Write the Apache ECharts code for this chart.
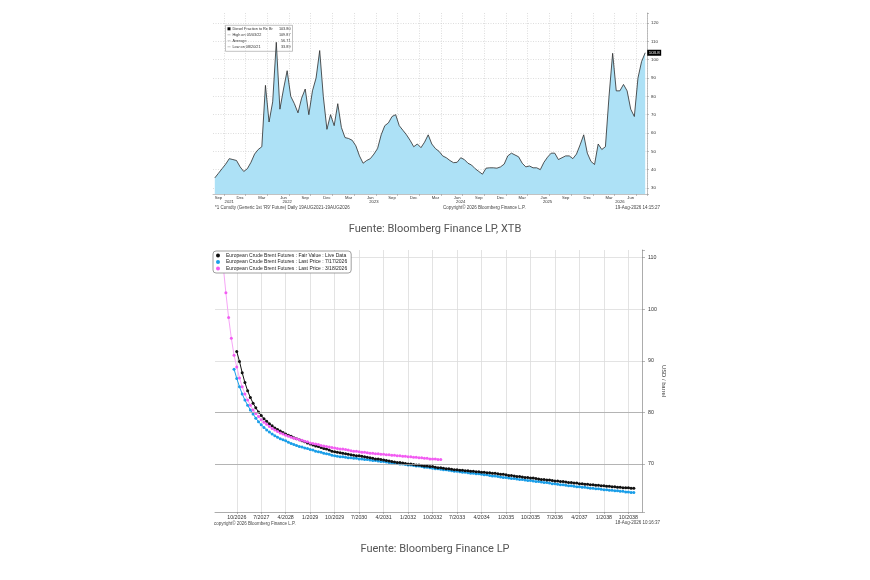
<!DOCTYPE html>
<html>
<head>
<meta charset="utf-8">
<script src="https://cdn.jsdelivr.net/npm/echarts@6/dist/echarts.min.js"></script>
<style>
  html, body { margin: 0; padding: 0; background: #fff; }
  #main { width: 870px; height: 580px; }
</style>
</head>
<body>
<div id="main"></div>
<script>
// ---- top chart: half-month samples from 2nd half of Aug 2021
const dieselFrom = { year: 2021, month: 8, half: 2 };
const dieselValues = [
  35.5, 38, 40.5, 43, 46, 45.5, 45, 41.5, 39, 40.5,
  44, 48.5, 51, 52.5, 86, 66, 77, 109.5, 73, 84,
  94, 80, 76, 71, 79, 84, 70, 83, 90, 105,
  80, 62, 70, 64, 76, 63, 57.5, 57, 56, 53,
  47.5, 43.5, 45, 46, 48.5, 51.5, 59, 64, 65.5, 69,
  70, 64, 61.5, 59, 56, 52.5, 54, 52, 55, 59,
  54, 51.5, 50, 47.5, 46.5, 45, 43.8, 44, 46.5, 45.5,
  43.5, 42.5, 40.5, 39, 37.5, 40.8, 41, 41, 40.8, 41.5,
  43, 47.5, 49, 48, 47, 43.5, 41.5, 42, 41, 41,
  40, 44, 46.8, 49, 49, 45.5, 46.5, 47.5, 47.5, 46,
  48.5, 53.5, 59, 49, 44.5, 42.8, 54, 51, 52.5, 80,
  103.5, 83, 83, 86.5, 83, 73, 69, 90, 99, 103.8
];
const monthTickNames = { 3: 'Mar', 6: 'Jun', 9: 'Sep', 12: 'Dec' };
const quarterStartMonths = [1, 4, 7, 10];
const dieselLegendRows = [
  ['Diesel Fraction to Re Br', '103.80'],
  ['High on 05/03/22', '109.87'],
  ['Average', '56.71'],
  ['Low on 08/20/21', '33.89']
];

// ---- bottom chart: monthly contracts
const contractFirst = '2/2026';
const contractLast = '3/2039';
const curveTickFrom = '10/2026';
const fairValueName = 'European Crude Brent Futures : Fair Value : Live Data';
const julyName = 'European Crude Brent Futures : Last Price : 7/17/2026';
const marchName = 'European Crude Brent Futures : Last Price : 3/18/2026';

const fairValueFrom = '10/2026';
const fairValue = [
  91.8, 89.9, 87.7, 85.8, 84.2, 82.9, 81.8, 80.9, 80.1, 79.4,
  78.8, 78.3, 77.8, 77.4, 77.0, 76.7, 76.4, 76.1, 75.8, 75.6,
  75.4, 75.1, 74.9, 74.7, 74.5, 74.3, 74.1, 73.9, 73.7, 73.5,
  73.4, 73.2, 73.0, 72.9, 72.7, 72.5, 72.4, 72.3, 72.2, 72.1,
  72.0, 71.9, 71.8, 71.7, 71.6, 71.6, 71.5, 71.4, 71.3, 71.2,
  71.1, 71.0, 71.0, 70.9, 70.8, 70.7, 70.6, 70.5, 70.4, 70.3,
  70.3, 70.2, 70.1, 70.0, 70.0, 69.9, 69.8, 69.8, 69.7, 69.6,
  69.6, 69.5, 69.5, 69.4, 69.3, 69.3, 69.2, 69.1, 69.1, 69.0,
  68.9, 68.9, 68.8, 68.8, 68.7, 68.7, 68.6, 68.6, 68.5, 68.5,
  68.4, 68.4, 68.3, 68.3, 68.2, 68.2, 68.1, 68.0, 68.0, 67.9,
  67.8, 67.8, 67.7, 67.6, 67.6, 67.5, 67.4, 67.4, 67.3, 67.3,
  67.2, 67.1, 67.0, 67.0, 66.9, 66.9, 66.8, 66.7, 66.7, 66.6,
  66.6, 66.5, 66.4, 66.4, 66.3, 66.3, 66.2, 66.2, 66.1, 66.1,
  66.0, 66.0, 65.9, 65.9, 65.8, 65.8, 65.7, 65.7, 65.6, 65.6,
  65.5, 65.5, 65.4, 65.4, 65.4, 65.3, 65.3
];

const julyFrom = '9/2026';
const julyPrice = [
  88.4, 86.6, 85.0, 83.6, 82.4, 81.4, 80.5, 79.7, 78.9, 78.2,
  77.6, 77.1, 76.6, 76.2, 75.8, 75.5, 75.2, 74.9, 74.7, 74.5,
  74.2, 74.0, 73.8, 73.6, 73.4, 73.3, 73.1, 73.0, 72.8, 72.7,
  72.5, 72.4, 72.3, 72.1, 72.0, 71.9, 71.7, 71.6, 71.5, 71.4,
  71.4, 71.3, 71.2, 71.2, 71.1, 71.1, 71.0, 71.0, 70.9, 70.9,
  70.8, 70.7, 70.7, 70.6, 70.5, 70.5, 70.4, 70.3, 70.2, 70.2,
  70.1, 70.0, 70.0, 69.9, 69.8, 69.8, 69.7, 69.6, 69.6, 69.5,
  69.4, 69.4, 69.3, 69.2, 69.1, 69.1, 69.0, 68.9, 68.9, 68.8,
  68.7, 68.6, 68.6, 68.5, 68.4, 68.4, 68.3, 68.2, 68.2, 68.1,
  68.1, 68.0, 67.9, 67.9, 67.8, 67.7, 67.7, 67.6, 67.5, 67.4,
  67.4, 67.3, 67.2, 67.2, 67.1, 67.0, 67.0, 66.9, 66.8, 66.8,
  66.7, 66.6, 66.6, 66.5, 66.4, 66.4, 66.3, 66.2, 66.2, 66.1,
  66.0, 66.0, 65.9, 65.8, 65.8, 65.7, 65.6, 65.6, 65.5, 65.5,
  65.4, 65.3, 65.3, 65.2, 65.2, 65.1, 65.0, 65.0, 64.9, 64.9,
  64.8, 64.8, 64.7, 64.7, 64.6, 64.6, 64.5, 64.5
];

const marchFrom = '5/2026';
const marchPrice = [
  108.5, 103.2, 98.4, 94.4, 91.1, 88.8, 86.7, 85.0, 83.6, 82.4,
  81.4, 80.5, 79.8, 79.2, 78.6, 78.1, 77.7, 77.3, 76.9, 76.6,
  76.3, 76.0, 75.8, 75.6, 75.4, 75.2, 75.0, 74.9, 74.7, 74.6,
  74.4, 74.3, 74.1, 74.0, 73.9, 73.8, 73.6, 73.5, 73.4, 73.3,
  73.2, 73.1, 73.0, 72.9, 72.9, 72.8, 72.7, 72.6, 72.5, 72.5,
  72.4, 72.3, 72.3, 72.2, 72.1, 72.1, 72.0, 72.0, 71.9, 71.9,
  71.8, 71.8, 71.7, 71.7, 71.6, 71.6, 71.5, 71.5, 71.4, 71.4,
  71.3, 71.3, 71.2, 71.2, 71.1, 71.1, 71.0, 71.0, 71.0, 70.9,
  70.9
];

// half-month slots for the top chart
const slots = [];
let sy = dieselFrom.year, sm = dieselFrom.month, sh = dieselFrom.half;
for (let i = 0; i < dieselValues.length; i++) {
  slots.push({ y: sy, m: sm, h: sh });
  if (sh === 2) {
    sh = 1; sm++;
    if (sm > 12) { sm = 1; sy++; }
  } else {
    sh = 2;
  }
}
const slotNames = slots.map(s => s.y + '-' + s.m + '-' + s.h);
// year label sits in the middle of the visible part of each year
const yearMid = {};
const yearSpan = {};
slots.forEach((s, i) => {
  if (!yearSpan[s.y]) yearSpan[s.y] = [i, i];
  yearSpan[s.y][1] = i;
});
Object.keys(yearSpan).forEach(y => {
  yearMid[Math.floor((yearSpan[y][0] + yearSpan[y][1]) / 2)] = y;
});
const isMonthTick = i => slots[i].h === 1 && monthTickNames[slots[i].m];
const isQuarterLine = i => slots[i].h === 1 && quarterStartMonths.includes(slots[i].m);

// monthly contract axis for the bottom chart
const contracts = [];
let cy = +contractFirst.split('/')[1], cm = +contractFirst.split('/')[0];
while (true) {
  const name = cm + '/' + cy;
  contracts.push(name);
  if (name === contractLast) break;
  cm++;
  if (cm > 12) { cm = 1; cy++; }
}
const tickFromIdx = contracts.indexOf(curveTickFrom);
const isCurveTick = i => i >= tickFromIdx && (i - tickFromIdx) % 9 === 0;

function pad(from, values) {
  return new Array(contracts.indexOf(from)).fill('-').concat(values);
}

const chart = echarts.init(document.getElementById('main'));
const smallText = { fontFamily: 'Liberation Sans, Arial, sans-serif', color: '#333' };

const topLegend = {
  type: 'group', left: 225, top: 25,
  children: [
    { type: 'rect', shape: { x: 0, y: 0, width: 67, height: 26 },
      style: { fill: '#fff', stroke: '#999', lineWidth: 0.6 } },
    { type: 'rect', shape: { x: 2, y: 2, width: 3, height: 3 }, style: { fill: '#000' } }
  ].concat(dieselLegendRows.map((r, k) => ({
    type: 'text', x: 7, y: 3.5 + k * 6,
    style: { text: r[0], fontSize: 3.8, fill: '#333', fontFamily: smallText.fontFamily, verticalAlign: 'middle' }
  }))).concat(dieselLegendRows.map((r, k) => ({
    type: 'text', x: 65, y: 3.5 + k * 6,
    style: { text: r[1], fontSize: 3.8, fill: '#333', fontFamily: smallText.fontFamily, align: 'right', verticalAlign: 'middle' }
  }))).concat([1, 2, 3].map(k => ({
    type: 'line', shape: { x1: 2, y1: 3.5 + k * 6, x2: 5, y2: 3.5 + k * 6 },
    style: { stroke: '#999', lineWidth: 0.6 }
  })))
};

function footText(x, y, text, align) {
  return { type: 'text', x: x, y: y,
    style: { text: text, fontSize: 4.5, fill: '#444', fontFamily: smallText.fontFamily, align: align || 'left', verticalAlign: 'middle' } };
}

const option = {
  animation: false,
  backgroundColor: '#fff',
  grid: [
    { left: 213, top: 13, width: 434, height: 181, outerBoundsMode: 'none' },
    { left: 215, top: 250, width: 427, height: 262, outerBoundsMode: 'none' }
  ],
  legend: {
    data: [fairValueName, julyName, marchName],
    orient: 'vertical',
    left: 213, top: 251,
    icon: 'circle',
    itemWidth: 4, itemHeight: 4, itemGap: 1.5,
    padding: [2, 4, 2, 3],
    backgroundColor: '#fff',
    borderColor: '#888', borderWidth: 0.8, borderRadius: 3,
    textStyle: { fontSize: 5, color: '#222', fontFamily: smallText.fontFamily, padding: [0, 0, 0, 1] }
  },
  xAxis: [
    {
      type: 'category', gridIndex: 0, data: slotNames, boundaryGap: true,
      axisLine: { lineStyle: { color: '#999', width: 0.6 } },
      axisTick: { show: true, length: 2, interval: isQuarterLine, lineStyle: { color: '#999', width: 0.6 } },
      splitLine: { show: true, interval: isQuarterLine, lineStyle: { color: '#c8c8c8', width: 0.6, type: [1, 1.5] } },
      axisLabel: {
        interval: i => !!isMonthTick(i) || yearMid[i] !== undefined,
        formatter: (v, i) => isMonthTick(i) ? monthTickNames[slots[i].m] : (yearMid[i] !== undefined ? '\n' + yearMid[i] : ''),
        fontSize: 4.2, lineHeight: 4.8, margin: 1, ...smallText
      }
    },
    {
      type: 'category', gridIndex: 1, data: contracts, boundaryGap: false,
      axisLine: { lineStyle: { color: '#888', width: 0.7 } },
      axisTick: { show: true, length: 2, interval: isCurveTick, lineStyle: { color: '#888', width: 0.6 } },
      splitLine: { show: true, interval: isCurveTick, lineStyle: { color: '#dcdcdc', width: 0.8 } },
      axisLabel: { interval: isCurveTick, fontSize: 5.3, margin: 3, ...smallText }
    }
  ],
  yAxis: [
    {
      type: 'value', gridIndex: 0, position: 'right',
      min: 26.7, max: 125.5, splitNumber: 10,
      axisLine: { show: true, lineStyle: { color: '#999', width: 0.6 } },
      axisTick: { show: true, length: 2, lineStyle: { color: '#999', width: 0.6 } },
      splitLine: { show: true, showMinLine: false, showMaxLine: false, lineStyle: { color: '#c8c8c8', width: 0.6, type: [1, 1.5] } },
      axisLabel: { fontSize: 4.4, margin: 4, ...smallText, formatter: v => (Math.abs(v % 10) < 1e-6 ? v : '') }
    },
    {
      type: 'value', gridIndex: 1, position: 'right',
      min: 60.7, max: 111.5, splitNumber: 5,
      axisLine: { show: true, lineStyle: { color: '#888', width: 0.7 } },
      axisTick: { show: true, length: 3, lineStyle: { color: '#888', width: 0.6 } },
      splitLine: { show: true, showMinLine: false, showMaxLine: false, lineStyle: { color: '#dcdcdc', width: 0.8 } },
      axisLabel: { fontSize: 5.3, margin: 6, ...smallText, formatter: v => (Math.abs(v % 10) < 1e-6 ? v : '') },
      name: 'USD / barrel', nameLocation: 'middle', nameRotate: -90, nameGap: 18,
      nameTextStyle: { fontSize: 5.8, color: '#333', fontFamily: smallText.fontFamily }
    }
  ],
  series: [
    {
      name: 'Diesel', type: 'line', xAxisIndex: 0, yAxisIndex: 0,
      data: dieselValues, symbol: 'none',
      lineStyle: { color: '#2b2b2b', width: 0.8 },
      areaStyle: { color: '#ade1f6', opacity: 1, origin: 'start' },
      endLabel: {
        show: true, distance: 2,
        formatter: p => p.value.toFixed(1),
        backgroundColor: '#000', color: '#fff', fontSize: 4.4, padding: [1, 1.5],
        fontFamily: smallText.fontFamily
      }
    },
    {
      name: julyName, type: 'line', xAxisIndex: 1, yAxisIndex: 1,
      data: pad(julyFrom, julyPrice),
      symbol: 'circle', symbolSize: 3, showAllSymbol: true,
      itemStyle: { color: '#1a9ee8' },
      lineStyle: { color: '#1a9ee8', width: 1 },
      markLine: {
        silent: true, symbol: 'none', label: { show: false },
        lineStyle: { color: '#a8a8a8', width: 0.8, type: 'solid' },
        data: [{ yAxis: 80 }, { yAxis: 70 }]
      }
    },
    {
      name: fairValueName, type: 'line', xAxisIndex: 1, yAxisIndex: 1,
      data: pad(fairValueFrom, fairValue),
      symbol: 'circle', symbolSize: 3, showAllSymbol: true,
      itemStyle: { color: '#111' },
      lineStyle: { color: '#111', width: 1 }
    },
    {
      name: marchName, type: 'line', xAxisIndex: 1, yAxisIndex: 1,
      data: pad(marchFrom, marchPrice),
      symbol: 'circle', symbolSize: 3, showAllSymbol: true,
      itemStyle: { color: '#f25cf2' },
      lineStyle: { color: '#f7a6f7', width: 1 }
    }
  ],
  graphic: [
    topLegend,
    footText(215, 208, "*1 Comdty (Generic 1st 'R9' Future) Daily 19AUG2021-19AUG2026"),
    footText(443, 208, 'Copyright\u00a9 2026 Bloomberg Finance L.P.'),
    footText(660, 208, '19-Aug-2026 14:15:27', 'right'),
    footText(214, 524, 'copyright\u00a9 2026 Bloomberg Finance L.P.'),
    footText(660, 523, '18-Aug-2026 10:16:37', 'right'),
    { type: 'text', x: 435, y: 229,
      style: { text: 'Fuente: Bloomberg Finance LP, XTB', fontSize: 11, fill: '#555', fontFamily: 'Roboto, sans-serif', align: 'center', verticalAlign: 'middle' } },
    { type: 'text', x: 435, y: 549,
      style: { text: 'Fuente: Bloomberg Finance LP', fontSize: 11, fill: '#555', fontFamily: 'Roboto, sans-serif', align: 'center', verticalAlign: 'middle' } }
  ]
};

chart.setOption(option);
</script>
</body>
</html>
